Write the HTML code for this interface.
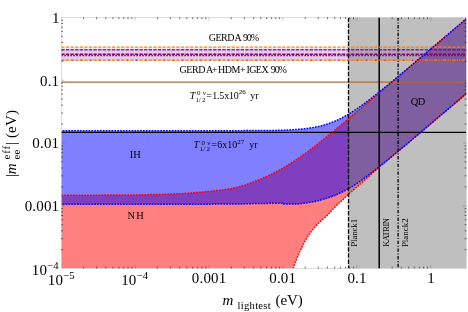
<!DOCTYPE html>
<html><head><meta charset="utf-8"><title>plot</title>
<style>html,body{margin:0;padding:0;background:#fff;}svg{display:block;}text{font-family:"Liberation Serif",serif;fill:#000;}</style>
</head><body>
<svg width="468" height="312" viewBox="0 0 468 312">
<rect width="468" height="312" fill="#fff"/>
<defs><clipPath id="c"><rect x="61.3" y="17.4" width="405.0" height="251.0"/></clipPath></defs>
<g clip-path="url(#c)">
<path d="M61.3,195.3L63.3,195.3L65.3,195.3L67.3,195.3L69.3,195.3L71.3,195.2L73.3,195.2L75.3,195.2L77.3,195.2L79.3,195.2L81.3,195.2L83.3,195.2L85.3,195.2L87.3,195.2L89.3,195.2L91.3,195.2L93.3,195.2L95.3,195.2L97.3,195.2L99.3,195.2L101.3,195.2L103.3,195.1L105.3,195.1L107.3,195.1L109.3,195.1L111.3,195.1L113.3,195.1L115.3,195.1L117.3,195.1L119.3,195.0L121.3,195.0L123.3,195.0L125.3,195.0L127.3,195.0L129.3,195.0L131.3,194.9L133.3,194.9L135.3,194.9L137.3,194.9L139.3,194.8L141.3,194.8L143.3,194.8L145.3,194.7L147.3,194.7L149.3,194.6L151.3,194.6L153.3,194.6L155.3,194.5L157.3,194.5L159.3,194.4L161.3,194.4L163.3,194.3L165.3,194.2L167.3,194.2L169.3,194.1L171.3,194.0L173.3,193.9L175.3,193.8L177.3,193.8L179.3,193.7L181.3,193.6L183.3,193.4L185.3,193.3L187.3,193.2L189.3,193.1L191.3,192.9L193.3,192.8L195.3,192.6L197.3,192.5L199.3,192.3L201.3,192.1L203.3,192.0L205.3,191.8L207.3,191.6L209.3,191.4L211.3,191.1L213.3,190.9L215.3,190.7L217.3,190.5L219.3,190.3L221.3,190.0L223.3,189.7L225.3,189.5L227.3,189.2L229.3,188.8L231.3,188.5L233.3,188.1L235.3,187.7L237.3,187.2L239.3,186.7L241.3,186.1L243.3,185.5L245.3,184.9L247.3,184.2L249.3,183.5L251.3,182.8L253.3,182.0L255.3,181.2L257.3,180.5L259.3,179.6L261.3,178.8L263.3,177.9L265.3,177.1L267.3,176.2L269.3,175.2L271.3,174.3L273.3,173.3L275.3,172.3L277.3,171.2L279.3,170.1L281.3,169.0L283.3,167.9L285.3,166.7L287.3,165.5L289.3,164.2L291.3,163.0L293.3,161.7L295.3,160.4L297.3,159.0L299.3,157.6L301.3,156.2L303.3,154.8L305.3,153.4L307.3,151.9L309.3,150.4L311.3,148.9L313.3,147.4L315.3,145.8L317.3,144.3L319.3,142.7L321.3,141.1L323.3,139.5L325.3,137.9L327.3,136.3L329.3,134.7L331.3,133.1L333.3,131.4L335.3,129.8L337.3,128.1L339.3,126.5L341.3,124.8L343.3,123.1L345.3,121.5L347.3,119.8L349.3,118.1L351.3,116.4L353.3,114.8L355.3,113.1L357.3,111.4L359.3,109.7L361.3,108.0L363.3,106.3L365.3,104.6L367.3,102.9L369.3,101.3L371.3,99.6L373.3,97.9L375.3,96.2L377.3,94.5L379.3,92.8L381.3,91.1L383.3,89.4L385.3,87.7L387.3,86.0L389.3,84.3L391.3,82.6L393.3,80.9L395.3,79.2L397.3,77.5L399.3,75.8L401.3,74.1L403.3,72.4L405.3,70.7L407.3,69.0L409.3,67.3L411.3,65.6L413.3,63.9L415.3,62.2L417.3,60.5L419.3,58.8L421.3,57.1L423.3,55.4L425.3,53.7L427.3,52.0L429.3,50.3L431.3,48.6L433.3,46.9L435.3,45.2L437.3,43.5L439.3,41.8L441.3,40.1L443.3,38.4L445.3,36.7L447.3,35.0L449.3,33.3L451.3,31.6L453.3,29.9L455.3,28.2L457.3,26.5L459.3,24.8L461.3,23.1L463.3,21.4L466.3,18.9L466.3,93.6L464.0,95.6L462.0,97.3L460.0,99.0L458.0,100.7L456.0,102.4L454.0,104.1L452.0,105.8L450.0,107.5L448.0,109.2L446.0,110.9L444.0,112.6L442.0,114.2L440.0,115.9L438.0,117.6L436.0,119.3L434.0,121.0L432.0,122.7L430.0,124.4L428.0,126.1L426.0,127.8L424.0,129.5L422.0,131.2L420.0,132.9L418.0,134.6L416.0,136.3L414.0,138.0L412.0,139.6L410.0,141.3L408.0,143.0L406.0,144.7L404.0,146.4L402.0,148.0L400.0,149.7L398.0,151.4L396.0,153.0L394.0,154.7L392.0,156.3L390.0,158.0L388.0,159.6L386.0,161.3L384.0,162.9L382.0,164.5L380.0,166.3L378.0,168.1L376.0,170.0L374.0,171.8L372.0,173.6L370.0,175.4L368.0,177.2L366.0,179.0L364.0,180.8L362.0,182.5L360.0,184.3L358.0,186.0L356.0,187.7L354.0,189.4L352.0,191.2L350.0,192.9L348.0,194.8L346.0,196.7L344.0,198.7L342.0,200.5L340.0,202.2L338.0,204.0L336.0,205.9L334.0,208.0L332.0,210.2L330.0,212.5L328.0,214.6L326.0,216.5L324.0,218.3L322.0,220.0L320.0,221.8L318.0,223.8L316.0,225.9L314.0,228.1L312.0,230.5L310.0,233.1L308.0,236.0L306.0,239.3L304.0,243.1L302.0,247.1L300.0,251.3L298.0,255.7L296.0,260.6L294.0,265.9L293.1,268.5L61.3,268.4Z" fill="#ff0000" fill-opacity="0.5"/>
<path d="M61.3,130.7L63.3,130.7L65.3,130.7L67.3,130.7L69.3,130.7L71.3,130.7L73.3,130.7L75.3,130.7L77.3,130.7L79.3,130.7L81.3,130.7L83.3,130.7L85.3,130.7L87.3,130.7L89.3,130.7L91.3,130.7L93.3,130.7L95.3,130.7L97.3,130.7L99.3,130.7L101.3,130.7L103.3,130.7L105.3,130.7L107.3,130.7L109.3,130.7L111.3,130.7L113.3,130.7L115.3,130.7L117.3,130.7L119.3,130.7L121.3,130.7L123.3,130.7L125.3,130.7L127.3,130.7L129.3,130.7L131.3,130.7L133.3,130.7L135.3,130.7L137.3,130.7L139.3,130.7L141.3,130.7L143.3,130.7L145.3,130.7L147.3,130.7L149.3,130.7L151.3,130.7L153.3,130.7L155.3,130.7L157.3,130.7L159.3,130.7L161.3,130.7L163.3,130.7L165.3,130.7L167.3,130.7L169.3,130.7L171.3,130.7L173.3,130.7L175.3,130.7L177.3,130.7L179.3,130.7L181.3,130.7L183.3,130.7L185.3,130.7L187.3,130.7L189.3,130.7L191.3,130.7L193.3,130.7L195.3,130.7L197.3,130.7L199.3,130.7L201.3,130.7L203.3,130.7L205.3,130.7L207.3,130.7L209.3,130.7L211.3,130.7L213.3,130.7L215.3,130.7L217.3,130.7L219.3,130.7L221.3,130.7L223.3,130.7L225.3,130.7L227.3,130.7L229.3,130.7L231.3,130.7L233.3,130.7L235.3,130.7L237.3,130.7L239.3,130.7L241.3,130.7L243.3,130.6L245.3,130.6L247.3,130.6L249.3,130.6L251.3,130.6L253.3,130.6L255.3,130.6L257.3,130.6L259.3,130.6L261.3,130.6L263.3,130.5L265.3,130.5L267.3,130.5L269.3,130.5L271.3,130.4L273.3,130.4L275.3,130.4L277.3,130.3L279.3,130.3L281.3,130.2L283.3,130.2L285.3,130.1L287.3,130.0L289.3,129.9L291.3,129.8L293.3,129.7L295.3,129.6L297.3,129.4L299.3,129.3L301.3,129.1L303.3,128.9L305.3,128.7L307.3,128.4L309.3,128.1L311.3,127.8L313.3,127.5L315.3,127.1L317.3,126.7L319.3,126.3L321.3,125.8L323.3,125.2L325.3,124.7L327.3,124.0L329.3,123.3L331.3,122.6L333.3,121.8L335.3,121.0L337.3,120.1L339.3,119.2L341.3,118.2L343.3,117.1L345.3,116.0L347.3,114.9L349.3,113.7L351.3,112.5L353.3,111.2L355.3,109.9L357.3,108.5L359.3,107.1L361.3,105.7L363.3,104.3L365.3,102.8L367.3,101.3L369.3,99.8L371.3,98.3L373.3,96.7L375.3,95.2L377.3,93.6L379.3,92.0L381.3,90.4L383.3,88.8L385.3,87.1L387.3,85.5L389.3,83.9L391.3,82.2L393.3,80.6L395.3,78.9L397.3,77.2L399.3,75.6L401.3,73.9L403.3,72.2L405.3,70.5L407.3,68.9L409.3,67.2L411.3,65.5L413.3,63.8L415.3,62.1L417.3,60.4L419.3,58.7L421.3,57.1L423.3,55.4L425.3,53.7L427.3,52.0L429.3,50.3L431.3,48.6L433.3,46.9L435.3,45.2L437.3,43.5L439.3,41.8L441.3,40.1L443.3,38.4L445.3,36.7L447.3,35.0L449.3,33.3L451.3,31.6L453.3,29.9L455.3,28.2L457.3,26.5L459.3,24.8L461.3,23.1L463.3,21.4L466.3,18.9L466.3,93.6L463.3,96.2L461.3,97.9L459.3,99.6L457.3,101.3L455.3,103.0L453.3,104.7L451.3,106.4L449.3,108.1L447.3,109.7L445.3,111.4L443.3,113.1L441.3,114.8L439.3,116.5L437.3,118.2L435.3,119.9L433.3,121.6L431.3,123.3L429.3,125.0L427.3,126.7L425.3,128.4L423.3,130.1L421.3,131.8L419.3,133.5L417.3,135.2L415.3,136.9L413.3,138.5L411.3,140.2L409.3,141.9L407.3,143.6L405.3,145.3L403.3,146.9L401.3,148.6L399.3,150.3L397.3,152.0L395.3,153.6L393.3,155.3L391.3,156.9L389.3,158.6L387.3,160.2L385.3,161.8L383.3,163.5L381.3,165.1L379.3,166.7L377.3,168.2L375.3,169.8L373.3,171.4L371.3,172.9L369.3,174.4L367.3,175.9L365.3,177.4L363.3,178.9L361.3,180.3L359.3,181.7L357.3,183.0L355.3,184.4L353.3,185.6L351.3,186.9L349.3,188.1L347.3,189.3L345.3,190.4L343.3,191.4L341.3,192.4L339.3,193.4L337.3,194.3L335.3,195.2L333.3,196.0L331.3,196.7L329.3,197.4L327.3,198.1L325.3,198.7L323.3,199.2L321.3,199.8L319.3,200.4L317.3,201.0L315.3,201.4L313.3,201.8L311.3,202.2L309.3,202.5L307.3,202.8L305.3,203.0L303.3,203.3L301.3,203.5L299.3,203.8L297.3,203.9L295.3,204.0L293.3,204.0L291.3,204.0L289.3,204.1L287.3,204.1L285.3,204.1L283.3,204.1L282.7,204.1L282.1,203.2L281.3,203.2L279.3,203.2L277.3,203.2L275.3,203.2L273.3,203.3L271.3,203.3L269.3,203.3L267.3,203.4L265.3,203.4L263.3,203.4L261.3,203.5L259.3,203.5L257.3,203.5L255.3,203.6L253.3,203.6L251.3,203.7L249.3,203.7L247.3,203.8L245.3,203.8L243.3,203.9L241.3,203.9L239.3,203.9L237.3,203.9L235.3,204.0L233.3,204.0L231.3,204.0L229.3,204.0L227.3,204.0L225.3,204.0L223.3,204.1L221.3,204.1L219.3,204.1L217.3,204.1L215.3,204.1L213.3,204.1L211.3,204.1L209.3,204.2L207.3,204.2L205.3,204.2L203.3,204.2L201.3,204.2L199.3,204.2L197.3,204.2L195.3,204.2L193.3,204.2L191.3,204.2L189.3,204.2L187.3,204.2L185.3,204.2L183.3,204.2L181.3,204.3L179.3,204.3L177.3,204.3L175.3,204.3L173.3,204.3L171.3,204.3L169.3,204.3L167.3,204.3L165.3,204.3L163.3,204.3L161.3,204.3L159.3,204.3L157.3,204.3L155.3,204.3L153.3,204.3L151.3,204.3L149.3,204.3L147.3,204.3L145.3,204.3L143.3,204.3L141.3,204.3L139.3,204.3L137.3,204.3L135.3,204.3L133.3,204.3L131.3,204.3L129.3,204.3L127.3,204.3L125.3,204.3L123.3,204.3L121.3,204.3L119.3,204.3L117.3,204.3L115.3,204.3L113.3,204.3L111.3,204.3L109.3,204.3L107.3,204.3L105.3,204.3L103.3,204.3L101.3,204.3L99.3,204.3L97.3,204.3L95.3,204.3L93.3,204.3L91.3,204.3L89.3,204.3L87.3,204.3L85.3,204.3L83.3,204.3L81.3,204.3L79.3,204.3L77.3,204.3L75.3,204.3L73.3,204.3L71.3,204.3L69.3,204.3L67.3,204.3L65.3,204.3L63.3,204.3L61.3,204.3Z" fill="#0000ff" fill-opacity="0.5"/>
<rect x="61.3" y="48.5" width="405.0" height="12.3" fill="#800080" fill-opacity="0.2"/>
<rect x="348.5" y="17.4" width="117.8" height="251.0" fill="#808080" fill-opacity="0.5"/>
<g fill="none">
<path d="M61.3,82.2H466.3" stroke="#b26c30" stroke-width="1.3"/>
<path d="M61.3,132.4H466.3" stroke="#000" stroke-width="1.25"/>
<path d="M348.5,17.4V268.4" stroke="#000" stroke-width="1.3" stroke-dasharray="4.5 1.55"/>
<path d="M379.2,17.4V268.4" stroke="#000" stroke-width="1.5"/>
<path d="M398.1,17.4V268.4" stroke="#000" stroke-width="1.3" stroke-dasharray="3.4 1.6 1.1 1.6"/>
<path d="M61.3,47.1H466.3" stroke="#ff8000" stroke-width="1.3" stroke-dasharray="3.3 1.3"/>
<path d="M61.3,60.2H466.3" stroke="#ff8000" stroke-width="1.3" stroke-dasharray="3.3 1.3"/>
<path d="M61.3,60.3H466.3" stroke="#800080" stroke-width="1.1" stroke-dasharray="0.9 8.3" stroke-dashoffset="-1.2" stroke-opacity="0.85"/>
<path d="M61.3,49.8H466.3" stroke="#800080" stroke-width="1.4" stroke-dasharray="3.3 1.3" stroke-opacity="0.8"/>
<path d="M61.3,54.2H466.3" stroke="#800080" stroke-width="1.6" stroke-dasharray="3.3 1.3"/>
<path d="M61.3,55.4H466.3" stroke="#800080" stroke-width="1.5" stroke-dasharray="1.6 1.4"/>
<path d="M61.3,195.3L63.3,195.3L65.3,195.3L67.3,195.3L69.3,195.3L71.3,195.2L73.3,195.2L75.3,195.2L77.3,195.2L79.3,195.2L81.3,195.2L83.3,195.2L85.3,195.2L87.3,195.2L89.3,195.2L91.3,195.2L93.3,195.2L95.3,195.2L97.3,195.2L99.3,195.2L101.3,195.2L103.3,195.1L105.3,195.1L107.3,195.1L109.3,195.1L111.3,195.1L113.3,195.1L115.3,195.1L117.3,195.1L119.3,195.0L121.3,195.0L123.3,195.0L125.3,195.0L127.3,195.0L129.3,195.0L131.3,194.9L133.3,194.9L135.3,194.9L137.3,194.9L139.3,194.8L141.3,194.8L143.3,194.8L145.3,194.7L147.3,194.7L149.3,194.6L151.3,194.6L153.3,194.6L155.3,194.5L157.3,194.5L159.3,194.4L161.3,194.4L163.3,194.3L165.3,194.2L167.3,194.2L169.3,194.1L171.3,194.0L173.3,193.9L175.3,193.8L177.3,193.8L179.3,193.7L181.3,193.6L183.3,193.4L185.3,193.3L187.3,193.2L189.3,193.1L191.3,192.9L193.3,192.8L195.3,192.6L197.3,192.5L199.3,192.3L201.3,192.1L203.3,192.0L205.3,191.8L207.3,191.6L209.3,191.4L211.3,191.1L213.3,190.9L215.3,190.7L217.3,190.5L219.3,190.3L221.3,190.0L223.3,189.7L225.3,189.5L227.3,189.2L229.3,188.8L231.3,188.5L233.3,188.1L235.3,187.7L237.3,187.2L239.3,186.7L241.3,186.1L243.3,185.5L245.3,184.9L247.3,184.2L249.3,183.5L251.3,182.8L253.3,182.0L255.3,181.2L257.3,180.5L259.3,179.6L261.3,178.8L263.3,177.9L265.3,177.1L267.3,176.2L269.3,175.2L271.3,174.3L273.3,173.3L275.3,172.3L277.3,171.2L279.3,170.1L281.3,169.0L283.3,167.9L285.3,166.7L287.3,165.5L289.3,164.2L291.3,163.0L293.3,161.7L295.3,160.4L297.3,159.0L299.3,157.6L301.3,156.2L303.3,154.8L305.3,153.4L307.3,151.9L309.3,150.4L311.3,148.9L313.3,147.4L315.3,145.8L317.3,144.3L319.3,142.7L321.3,141.1L323.3,139.5L325.3,137.9L327.3,136.3L329.3,134.7L331.3,133.1L333.3,131.4L335.3,129.8L337.3,128.1L339.3,126.5L341.3,124.8L343.3,123.1L345.3,121.5L347.3,119.8L349.3,118.1L351.3,116.4L353.3,114.8L355.3,113.1L357.3,111.4L359.3,109.7L361.3,108.0L363.3,106.3L365.3,104.6L367.3,102.9L369.3,101.3L371.3,99.6L373.3,97.9L375.3,96.2L377.3,94.5L379.3,92.8L381.3,91.1L383.3,89.4L385.3,87.7L387.3,86.0L389.3,84.3L391.3,82.6L393.3,80.9L395.3,79.2L397.3,77.5L399.3,75.8L401.3,74.1L403.3,72.4L405.3,70.7L407.3,69.0L409.3,67.3L411.3,65.6L413.3,63.9L415.3,62.2L417.3,60.5L419.3,58.8L421.3,57.1L423.3,55.4L425.3,53.7L427.3,52.0L429.3,50.3L431.3,48.6L433.3,46.9L435.3,45.2L437.3,43.5L439.3,41.8L441.3,40.1L443.3,38.4L445.3,36.7L447.3,35.0L449.3,33.3L451.3,31.6L453.3,29.9L455.3,28.2L457.3,26.5L459.3,24.8L461.3,23.1L463.3,21.4L466.3,18.9" stroke="#ff0000" stroke-width="1.5" stroke-dasharray="1.7 1.17"/>
<path d="M293.1,268.5L294.0,265.9L296.0,260.6L298.0,255.7L300.0,251.3L302.0,247.1L304.0,243.1L306.0,239.3L308.0,236.0L310.0,233.1L312.0,230.5L314.0,228.1L316.0,225.9L318.0,223.8L320.0,221.8L322.0,220.0L324.0,218.3L326.0,216.5L328.0,214.6L330.0,212.5L332.0,210.2L334.0,208.0L336.0,205.9L338.0,204.0L340.0,202.2L342.0,200.5L344.0,198.7L346.0,196.7L348.0,194.8L350.0,192.9L352.0,191.2L354.0,189.4L356.0,187.7L358.0,186.0L360.0,184.3L362.0,182.5L364.0,180.8L366.0,179.0L368.0,177.2L370.0,175.4L372.0,173.6L374.0,171.8L376.0,170.0L378.0,168.1L380.0,166.3L382.0,164.5L384.0,162.9L386.0,161.3L388.0,159.6L390.0,158.0L392.0,156.3L394.0,154.7L396.0,153.0L398.0,151.4L400.0,149.7L402.0,148.0L404.0,146.4L406.0,144.7L408.0,143.0L410.0,141.3L412.0,139.6L414.0,138.0L416.0,136.3L418.0,134.6L420.0,132.9L422.0,131.2L424.0,129.5L426.0,127.8L428.0,126.1L430.0,124.4L432.0,122.7L434.0,121.0L436.0,119.3L438.0,117.6L440.0,115.9L442.0,114.2L444.0,112.6L446.0,110.9L448.0,109.2L450.0,107.5L452.0,105.8L454.0,104.1L456.0,102.4L458.0,100.7L460.0,99.0L462.0,97.3L464.0,95.6L466.3,93.6" stroke="#ff0000" stroke-width="1.5" stroke-dasharray="1.7 1.17"/>
<path d="M61.3,130.7L63.3,130.7L65.3,130.7L67.3,130.7L69.3,130.7L71.3,130.7L73.3,130.7L75.3,130.7L77.3,130.7L79.3,130.7L81.3,130.7L83.3,130.7L85.3,130.7L87.3,130.7L89.3,130.7L91.3,130.7L93.3,130.7L95.3,130.7L97.3,130.7L99.3,130.7L101.3,130.7L103.3,130.7L105.3,130.7L107.3,130.7L109.3,130.7L111.3,130.7L113.3,130.7L115.3,130.7L117.3,130.7L119.3,130.7L121.3,130.7L123.3,130.7L125.3,130.7L127.3,130.7L129.3,130.7L131.3,130.7L133.3,130.7L135.3,130.7L137.3,130.7L139.3,130.7L141.3,130.7L143.3,130.7L145.3,130.7L147.3,130.7L149.3,130.7L151.3,130.7L153.3,130.7L155.3,130.7L157.3,130.7L159.3,130.7L161.3,130.7L163.3,130.7L165.3,130.7L167.3,130.7L169.3,130.7L171.3,130.7L173.3,130.7L175.3,130.7L177.3,130.7L179.3,130.7L181.3,130.7L183.3,130.7L185.3,130.7L187.3,130.7L189.3,130.7L191.3,130.7L193.3,130.7L195.3,130.7L197.3,130.7L199.3,130.7L201.3,130.7L203.3,130.7L205.3,130.7L207.3,130.7L209.3,130.7L211.3,130.7L213.3,130.7L215.3,130.7L217.3,130.7L219.3,130.7L221.3,130.7L223.3,130.7L225.3,130.7L227.3,130.7L229.3,130.7L231.3,130.7L233.3,130.7L235.3,130.7L237.3,130.7L239.3,130.7L241.3,130.7L243.3,130.6L245.3,130.6L247.3,130.6L249.3,130.6L251.3,130.6L253.3,130.6L255.3,130.6L257.3,130.6L259.3,130.6L261.3,130.6L263.3,130.5L265.3,130.5L267.3,130.5L269.3,130.5L271.3,130.4L273.3,130.4L275.3,130.4L277.3,130.3L279.3,130.3L281.3,130.2L283.3,130.2L285.3,130.1L287.3,130.0L289.3,129.9L291.3,129.8L293.3,129.7L295.3,129.6L297.3,129.4L299.3,129.3L301.3,129.1L303.3,128.9L305.3,128.7L307.3,128.4L309.3,128.1L311.3,127.8L313.3,127.5L315.3,127.1L317.3,126.7L319.3,126.3L321.3,125.8L323.3,125.2L325.3,124.7L327.3,124.0L329.3,123.3L331.3,122.6L333.3,121.8L335.3,121.0L337.3,120.1L339.3,119.2L341.3,118.2L343.3,117.1L345.3,116.0L347.3,114.9L349.3,113.7L351.3,112.5L353.3,111.2L355.3,109.9L357.3,108.5L359.3,107.1L361.3,105.7L363.3,104.3L365.3,102.8L367.3,101.3L369.3,99.8L371.3,98.3L373.3,96.7L375.3,95.2L377.3,93.6L379.3,92.0L381.3,90.4L383.3,88.8L385.3,87.1L387.3,85.5L389.3,83.9L391.3,82.2L393.3,80.6L395.3,78.9L397.3,77.2L399.3,75.6L401.3,73.9L403.3,72.2L405.3,70.5L407.3,68.9L409.3,67.2L411.3,65.5L413.3,63.8L415.3,62.1L417.3,60.4L419.3,58.7L421.3,57.1L423.3,55.4L425.3,53.7L427.3,52.0L429.3,50.3L431.3,48.6L433.3,46.9L435.3,45.2L437.3,43.5L439.3,41.8L441.3,40.1L443.3,38.4L445.3,36.7L447.3,35.0L449.3,33.3L451.3,31.6L453.3,29.9L455.3,28.2L457.3,26.5L459.3,24.8L461.3,23.1L463.3,21.4L466.3,18.9" stroke="#0000ff" stroke-width="1.5" stroke-dasharray="1.7 1.17" stroke-dashoffset="1.5"/>
<path d="M61.3,204.3L63.3,204.3L65.3,204.3L67.3,204.3L69.3,204.3L71.3,204.3L73.3,204.3L75.3,204.3L77.3,204.3L79.3,204.3L81.3,204.3L83.3,204.3L85.3,204.3L87.3,204.3L89.3,204.3L91.3,204.3L93.3,204.3L95.3,204.3L97.3,204.3L99.3,204.3L101.3,204.3L103.3,204.3L105.3,204.3L107.3,204.3L109.3,204.3L111.3,204.3L113.3,204.3L115.3,204.3L117.3,204.3L119.3,204.3L121.3,204.3L123.3,204.3L125.3,204.3L127.3,204.3L129.3,204.3L131.3,204.3L133.3,204.3L135.3,204.3L137.3,204.3L139.3,204.3L141.3,204.3L143.3,204.3L145.3,204.3L147.3,204.3L149.3,204.3L151.3,204.3L153.3,204.3L155.3,204.3L157.3,204.3L159.3,204.3L161.3,204.3L163.3,204.3L165.3,204.3L167.3,204.3L169.3,204.3L171.3,204.3L173.3,204.3L175.3,204.3L177.3,204.3L179.3,204.3L181.3,204.3L183.3,204.2L185.3,204.2L187.3,204.2L189.3,204.2L191.3,204.2L193.3,204.2L195.3,204.2L197.3,204.2L199.3,204.2L201.3,204.2L203.3,204.2L205.3,204.2L207.3,204.2L209.3,204.2L211.3,204.1L213.3,204.1L215.3,204.1L217.3,204.1L219.3,204.1L221.3,204.1L223.3,204.1L225.3,204.0L227.3,204.0L229.3,204.0L231.3,204.0L233.3,204.0L235.3,204.0L237.3,203.9L239.3,203.9L241.3,203.9L243.3,203.9L245.3,203.8L247.3,203.8L249.3,203.7L251.3,203.7L253.3,203.6L255.3,203.6L257.3,203.5L259.3,203.5L261.3,203.5L263.3,203.4L265.3,203.4L267.3,203.4L269.3,203.3L271.3,203.3L273.3,203.3L275.3,203.2L277.3,203.2L279.3,203.2L281.3,203.2L282.1,203.2L282.7,204.1L283.3,204.1L285.3,204.1L287.3,204.1L289.3,204.1L291.3,204.0L293.3,204.0L295.3,204.0L297.3,203.9L299.3,203.8L301.3,203.5L303.3,203.3L305.3,203.0L307.3,202.8L309.3,202.5L311.3,202.2L313.3,201.8L315.3,201.4L317.3,201.0L319.3,200.4L321.3,199.8L323.3,199.2L325.3,198.7L327.3,198.1L329.3,197.4L331.3,196.7L333.3,196.0L335.3,195.2L337.3,194.3L339.3,193.4L341.3,192.4L343.3,191.4L345.3,190.4L347.3,189.3L349.3,188.1L351.3,186.9L353.3,185.6L355.3,184.4L357.3,183.0L359.3,181.7L361.3,180.3L363.3,178.9L365.3,177.4L367.3,175.9L369.3,174.4L371.3,172.9L373.3,171.4L375.3,169.8L377.3,168.2L379.3,166.7L381.3,165.1L383.3,163.5L385.3,161.8L387.3,160.2L389.3,158.6L391.3,156.9L393.3,155.3L395.3,153.6L397.3,152.0L399.3,150.3L401.3,148.6L403.3,146.9L405.3,145.3L407.3,143.6L409.3,141.9L411.3,140.2L413.3,138.5L415.3,136.9L417.3,135.2L419.3,133.5L421.3,131.8L423.3,130.1L425.3,128.4L427.3,126.7L429.3,125.0L431.3,123.3L433.3,121.6L435.3,119.9L437.3,118.2L439.3,116.5L441.3,114.8L443.3,113.1L445.3,111.4L447.3,109.7L449.3,108.1L451.3,106.4L453.3,104.7L455.3,103.0L457.3,101.3L459.3,99.6L461.3,97.9L463.3,96.2L466.3,93.6" stroke="#0000ff" stroke-width="1.5" stroke-dasharray="1.7 1.17" stroke-dashoffset="1.5"/>
</g>
</g>
<rect x="61.3" y="17.4" width="405.0" height="251.0" fill="none" stroke="#bcbcbc" stroke-width="0.5"/>
<path d="M135.20,268.4v-3.2M135.20,17.4v3.2M209.10,268.4v-3.2M209.10,17.4v3.2M283.00,268.4v-3.2M283.00,17.4v3.2M356.90,268.4v-3.2M356.90,17.4v3.2M430.80,268.4v-3.2M430.80,17.4v3.2M61.3,205.80h3.2M466.3,205.80h-3.2M61.3,143.00h3.2M466.3,143.00h-3.2M61.3,80.20h3.2M466.3,80.20h-3.2" stroke="#555" stroke-width="0.35" fill="none"/>
<path d="M83.55,268.4v-1.7M83.55,17.4v1.7M96.56,268.4v-1.7M96.56,17.4v1.7M105.79,268.4v-1.7M105.79,17.4v1.7M112.95,268.4v-1.7M112.95,17.4v1.7M118.81,268.4v-1.7M118.81,17.4v1.7M123.75,268.4v-1.7M123.75,17.4v1.7M128.04,268.4v-1.7M128.04,17.4v1.7M131.82,268.4v-1.7M131.82,17.4v1.7M157.45,268.4v-1.7M157.45,17.4v1.7M170.46,268.4v-1.7M170.46,17.4v1.7M179.69,268.4v-1.7M179.69,17.4v1.7M186.85,268.4v-1.7M186.85,17.4v1.7M192.71,268.4v-1.7M192.71,17.4v1.7M197.65,268.4v-1.7M197.65,17.4v1.7M201.94,268.4v-1.7M201.94,17.4v1.7M205.72,268.4v-1.7M205.72,17.4v1.7M231.35,268.4v-1.7M231.35,17.4v1.7M244.36,268.4v-1.7M244.36,17.4v1.7M253.59,268.4v-1.7M253.59,17.4v1.7M260.75,268.4v-1.7M260.75,17.4v1.7M266.61,268.4v-1.7M266.61,17.4v1.7M271.55,268.4v-1.7M271.55,17.4v1.7M275.84,268.4v-1.7M275.84,17.4v1.7M279.62,268.4v-1.7M279.62,17.4v1.7M305.25,268.4v-1.7M305.25,17.4v1.7M318.26,268.4v-1.7M318.26,17.4v1.7M327.49,268.4v-1.7M327.49,17.4v1.7M334.65,268.4v-1.7M334.65,17.4v1.7M340.51,268.4v-1.7M340.51,17.4v1.7M345.45,268.4v-1.7M345.45,17.4v1.7M349.74,268.4v-1.7M349.74,17.4v1.7M353.52,268.4v-1.7M353.52,17.4v1.7M379.15,268.4v-1.7M379.15,17.4v1.7M392.16,268.4v-1.7M392.16,17.4v1.7M401.39,268.4v-1.7M401.39,17.4v1.7M408.55,268.4v-1.7M408.55,17.4v1.7M414.41,268.4v-1.7M414.41,17.4v1.7M419.35,268.4v-1.7M419.35,17.4v1.7M423.64,268.4v-1.7M423.64,17.4v1.7M427.42,268.4v-1.7M427.42,17.4v1.7M61.3,249.70h1.7M466.3,249.70h-1.7M61.3,238.64h1.7M466.3,238.64h-1.7M61.3,230.79h1.7M466.3,230.79h-1.7M61.3,224.70h1.7M466.3,224.70h-1.7M61.3,219.73h1.7M466.3,219.73h-1.7M61.3,215.53h1.7M466.3,215.53h-1.7M61.3,211.89h1.7M466.3,211.89h-1.7M61.3,208.67h1.7M466.3,208.67h-1.7M61.3,186.90h1.7M466.3,186.90h-1.7M61.3,175.84h1.7M466.3,175.84h-1.7M61.3,167.99h1.7M466.3,167.99h-1.7M61.3,161.90h1.7M466.3,161.90h-1.7M61.3,156.93h1.7M466.3,156.93h-1.7M61.3,152.73h1.7M466.3,152.73h-1.7M61.3,149.09h1.7M466.3,149.09h-1.7M61.3,145.87h1.7M466.3,145.87h-1.7M61.3,124.10h1.7M466.3,124.10h-1.7M61.3,113.04h1.7M466.3,113.04h-1.7M61.3,105.19h1.7M466.3,105.19h-1.7M61.3,99.10h1.7M466.3,99.10h-1.7M61.3,94.13h1.7M466.3,94.13h-1.7M61.3,89.93h1.7M466.3,89.93h-1.7M61.3,86.29h1.7M466.3,86.29h-1.7M61.3,83.07h1.7M466.3,83.07h-1.7M61.3,61.30h1.7M466.3,61.30h-1.7M61.3,50.24h1.7M466.3,50.24h-1.7M61.3,42.39h1.7M466.3,42.39h-1.7M61.3,36.30h1.7M466.3,36.30h-1.7M61.3,31.33h1.7M466.3,31.33h-1.7M61.3,27.13h1.7M466.3,27.13h-1.7M61.3,23.49h1.7M466.3,23.49h-1.7M61.3,20.27h1.7M466.3,20.27h-1.7" stroke="#222" stroke-width="0.7" fill="none"/>
<g font-size="15" letter-spacing="0.15">
<text x="59.6" y="23.4" text-anchor="end">1</text>
<text x="59.2" y="86.3" text-anchor="end">0.1</text>
<text x="59.2" y="148.4" text-anchor="end">0.01</text>
<text x="59.2" y="211" text-anchor="end">0.001</text>
<text x="31.8" y="274.7">10<tspan font-size="10.7" dy="-5.8">−4</tspan></text>
<text x="47.8" y="284.8">10<tspan font-size="10.7" dy="-5.8">−5</tspan></text>
<text x="121.2" y="284.8">10<tspan font-size="10.7" dy="-5.8">−4</tspan></text>
<text x="209.1" y="283.4" text-anchor="middle">0.001</text>
<text x="282.7" y="283.4" text-anchor="middle">0.01</text>
<text x="357" y="283.4" text-anchor="middle">0.1</text>
<text x="431" y="283.4" text-anchor="middle">1</text>
<text x="222.6" y="305" font-style="italic">m</text>
<text x="237.6" y="308.8" font-size="10.6" textLength="33.2" lengthAdjust="spacing">lightest</text>
<text x="275.6" y="305" textLength="27.3" lengthAdjust="spacing">(eV)</text>
<g transform="translate(16.4,0) rotate(-90)">
<text x="-177" y="0">|</text>
<text x="-174.2" y="0" font-style="italic">m</text>
<text x="-159.4" y="-6.4" font-size="11" textLength="13.7" lengthAdjust="spacing">eff</text>
<text x="-159.6" y="4" font-size="11" textLength="10.2" lengthAdjust="spacing">ee</text>
<text x="-145" y="0">|</text>
<text x="-138.1" y="0" textLength="28.3" lengthAdjust="spacing">(eV)</text>
</g>
</g>
<g font-size="10">
<text x="208.70 215.41 221.02 227.18 234.60 240.50 243.00 246.86 250.71" y="40.9">GERDA 90%</text>
<text x="179.60 186.34 191.97 198.16 205.90 212.09 218.10 224.70 231.40 240.12 246.50 249.24 255.86 261.38 268.30 270.80 274.69 278.58" y="73.3">GERDA+HDM+IGEX 90%</text>
<text x="189.7" y="98.6" font-style="italic">T</text>
<text x="197" y="95.3" font-size="7" textLength="9" lengthAdjust="spacing">0 ν</text>
<text x="195.6" y="101.6" font-size="7" textLength="9.8" lengthAdjust="spacing">1/ 2</text>
<text x="206.2" y="98.6">=</text>
<text x="212.3" y="98.6" textLength="26.4" lengthAdjust="spacing">1.5x10</text>
<text x="238.7" y="94" font-size="7">26</text>
<text x="250.3" y="98.6">yr</text>
<text x="193.6" y="148.2" font-style="italic">T</text>
<text x="201.4" y="144.8" font-size="7" textLength="9" lengthAdjust="spacing">0 ν</text>
<text x="199.8" y="151.2" font-size="7" textLength="10.2" lengthAdjust="spacing">1/ 2</text>
<text x="211.2" y="148.2">=</text>
<text x="217.3" y="148.2" textLength="20" lengthAdjust="spacing">6x10</text>
<text x="237.2" y="144.2" font-size="7">27</text>
<text x="249.2" y="148.2">yr</text>
<text x="129.8" y="157.7" font-size="10.4" textLength="10.9" lengthAdjust="spacing">IH</text>
<text x="127.6" y="219.4" font-size="10.4" textLength="16.2" lengthAdjust="spacing">NH</text>
<text x="410.7" y="105.2" font-size="10.4" textLength="14.5" lengthAdjust="spacing">QD</text>
<text transform="translate(357.4,246.8) rotate(-90)" font-size="9" textLength="28" lengthAdjust="spacing">Planck1</text>
<text transform="translate(389.3,246.8) rotate(-90)" font-size="8.6" textLength="28.8" lengthAdjust="spacing">KATRIN</text>
<text transform="translate(408.2,247.1) rotate(-90)" font-size="9" textLength="28.8" lengthAdjust="spacing">Planck2</text>
</g>
</svg>
</body></html>
